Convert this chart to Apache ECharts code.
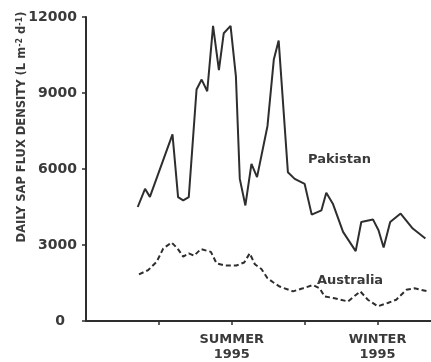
<!DOCTYPE html>
<html>
<head>
<meta charset="utf-8">
<script src="https://cdn.jsdelivr.net/npm/echarts@6/dist/echarts.min.js"></script>
<style>
  html, body { margin: 0; padding: 0; background: #fff; }
  #chart { width: 431px; height: 362px; }
</style>
</head>
<body>
<div id="chart"></div>
<script>
// Time axis in months; seasonal labels sit on ticks 6 and 12.
var monthTicks = [3, 6, 9, 12];
var seasonLabels = { 6: 'SUMMER\n1995', 12: 'WINTER\n1995' };
var fluxTicks = [0, 3000, 6000, 9000, 12000];

// Daily sap flux density, L m-2 d-1
var pakistanMonths = [2.13, 2.43, 2.63, 3.56, 3.79, 4.0, 4.23, 4.55, 4.76, 4.99, 5.23, 5.47, 5.67, 5.95, 6.17, 6.33, 6.56, 6.81, 7.04, 7.47, 7.73, 7.93, 8.31, 8.59, 9.0, 9.29, 9.69, 9.89, 10.16, 10.58, 11.1, 11.33, 11.81, 12.04, 12.25, 12.52, 12.95, 13.45, 13.97];
var pakistanFlux = [4500, 5220, 4900, 7370, 4890, 4760, 4890, 9140, 9530, 9070, 11650, 9900, 11360, 11650, 9660, 5610, 4560, 6200, 5680, 7700, 10320, 11070, 5870, 5610, 5410, 4200, 4370, 5060, 4630, 3520, 2760, 3910, 4010, 3580, 2900, 3910, 4240, 3650, 3260];

var australiaMonths = [2.18, 2.56, 2.91, 3.18, 3.52, 3.77, 4.0, 4.23, 4.45, 4.73, 5.14, 5.37, 5.71, 6.19, 6.51, 6.74, 6.95, 7.22, 7.47, 7.7, 7.97, 8.52, 8.93, 9.34, 9.62, 9.82, 10.23, 10.78, 11.29, 11.6, 12.01, 12.42, 12.77, 13.18, 13.52, 14.07];
var australiaFlux = [1840, 2010, 2340, 2860, 3100, 2860, 2540, 2670, 2580, 2840, 2730, 2280, 2190, 2190, 2310, 2670, 2240, 2050, 1690, 1530, 1360, 1170, 1290, 1420, 1290, 970, 900, 770, 1170, 840, 580, 710, 840, 1230, 1290, 1170];

function pairs(xs, ys) {
  return xs.map(function (x, i) { return [x, ys[i]]; });
}

var ink = '#2e2e2e';
var labelFont = 'DejaVu Sans';

var chart = echarts.init(document.getElementById('chart'), null, { renderer: 'canvas' });
chart.setOption({
  animation: false,
  backgroundColor: '#fff',
  grid: { left: 86, right: 0, top: 17, bottom: 39, containLabel: false },
  xAxis: {
    type: 'value',
    min: 0,
    max: 14.2,
    interval: 3,
    splitLine: { show: false },
    axisLine: { lineStyle: { color: ink, width: 2 } },
    axisTick: { customValues: monthTicks, length: 4, inside: false, lineStyle: { color: ink, width: 1.5 } },
    axisLabel: {
      customValues: [6, 12],
      formatter: function (v) { return seasonLabels[v] || ''; },
      margin: 11,
      color: '#3a3a3a',
      fontFamily: labelFont,
      fontWeight: 'bold',
      fontSize: 13,
      lineHeight: 15
    }
  },
  yAxis: {
    type: 'value',
    min: 0,
    max: 12000,
    interval: 3000,
    splitLine: { show: false },
    axisLine: { lineStyle: { color: ink, width: 2 } },
    axisTick: { length: 4, lineStyle: { color: ink, width: 1.5 } },
    axisLabel: {
      margin: 9,
      color: '#3a3a3a',
      fontFamily: labelFont,
      fontWeight: 'bold',
      fontSize: 14,
      formatter: function (v) { return v === 0 ? '{z|0}' : String(v); },
      rich: {
        z: { fontFamily: labelFont, fontWeight: 'bold', fontSize: 14, color: '#3a3a3a', padding: [0, 12, 0, 0] }
      }
    }
  },
  series: [
    {
      name: 'Pakistan',
      type: 'line',
      data: pairs(pakistanMonths, pakistanFlux),
      showSymbol: false,
      lineStyle: { color: ink, width: 2 }
    },
    {
      name: 'Australia',
      type: 'line',
      data: pairs(australiaMonths, australiaFlux),
      showSymbol: false,
      lineStyle: { color: ink, width: 2, type: [5, 3] }
    }
  ],
  graphic: [
    {
      type: 'text',
      x: 22,
      y: 127,
      rotation: Math.PI / 2,
      style: {
        text: 'DAILY SAP FLUX DENSITY (L m{s|-2} d{s|-1})',
        fill: '#3a3a3a',
        font: 'bold 11.5px "DejaVu Sans"',
        align: 'center',
        verticalAlign: 'middle',
        rich: {
          s: { fontSize: 8, fontWeight: 'bold', fontFamily: 'DejaVu Sans', fill: '#3a3a3a', verticalAlign: 'top', lineHeight: 13 }
        }
      }
    },
    {
      type: 'text',
      x: 308,
      y: 160,
      style: {
        text: 'Pakistan',
        fill: '#3a3a3a',
        font: 'bold 13px "DejaVu Sans"',
        align: 'left',
        verticalAlign: 'middle'
      }
    },
    {
      type: 'text',
      x: 317,
      y: 281,
      style: {
        text: 'Australia',
        fill: '#3a3a3a',
        font: 'bold 13px "DejaVu Sans"',
        align: 'left',
        verticalAlign: 'middle'
      }
    }
  ]
});
</script>
</body>
</html>
